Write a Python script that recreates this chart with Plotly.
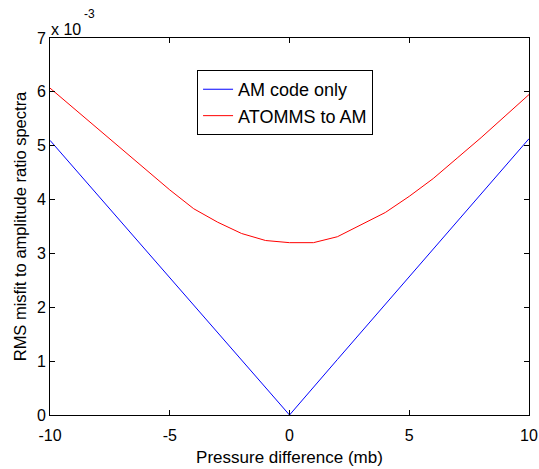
import plotly.graph_objects as go

# Pressure difference (mb)
x_blue = [-10, -8, -6, -4, -2, 0, 2, 4, 6, 8, 10]
y_blue = [5.10, 4.08, 3.06, 2.04, 1.02, 0.0, 1.03, 2.05, 3.08, 4.10, 5.13]  # x1e-3

x_red = [-10, -9, -8, -7, -6, -5, -4, -3, -2, -1, 0, 1, 2, 3, 4, 5, 6, 7, 8, 9, 10]
y_red = [6.07, 5.69, 5.31, 4.93, 4.56, 4.18, 3.83, 3.58, 3.37, 3.24, 3.20, 3.20, 3.31,
         3.54, 3.76, 4.06, 4.39, 4.77, 5.15, 5.55, 5.95]  # x1e-3

x_ticks = [-10, -5, 0, 5, 10]
y_ticks = [0, 1, 2, 3, 4, 5, 6, 7]

FONT = "Liberation Sans, Arial, sans-serif"

fig = go.Figure()
fig.add_trace(go.Scatter(x=x_blue, y=y_blue, mode="lines", name="AM code only",
                         line=dict(color="rgb(0,0,255)", width=1)))
fig.add_trace(go.Scatter(x=x_red, y=y_red, mode="lines", name="ATOMMS to AM",
                         line=dict(color="rgb(255,0,0)", width=1)))

axis_common = dict(showline=True, linecolor="black", linewidth=1, mirror="ticks",
                   ticks="inside", ticklen=5, tickcolor="black", showgrid=False,
                   zeroline=False, automargin=False,
                   tickfont=dict(family=FONT, size=16, color="black"))

fig.update_xaxes(range=[-10, 10], tickvals=x_ticks, ticktext=[str(v) for v in x_ticks],
                 ticklabelstandoff=6,
                 title=dict(text="Pressure difference (mb)",
                            font=dict(family=FONT, size=17, color="black"), standoff=7),
                 **axis_common)
fig.update_yaxes(range=[0, 7], tickvals=y_ticks, ticktext=[str(v) for v in y_ticks],
                 title=dict(text="RMS misfit to amplitude ratio spectra",
                            font=dict(family=FONT, size=16.5, color="black"), standoff=6),
                 **axis_common)

fig.add_annotation(x=0, y=1, xref="paper", yref="paper", xanchor="left", yanchor="middle",
                   text="x 10", showarrow=False, yshift=9, xshift=-1,
                   font=dict(family=FONT, size=16, color="black"))
fig.add_annotation(x=0, y=1, xref="paper", yref="paper", xanchor="left", yanchor="middle",
                   text="-3", showarrow=False, yshift=24, xshift=32,
                   font=dict(family=FONT, size=12, color="black"))

fig.update_layout(
    width=539, height=469,
    margin=dict(l=50, r=10, t=38, b=54),
    paper_bgcolor="white", plot_bgcolor="white",
    showlegend=True,
    legend=dict(x=0.307, y=0.915, xanchor="left", yanchor="top",
                bgcolor="white", bordercolor="black", borderwidth=1,
                font=dict(family=FONT, size=18, color="black"),
                tracegroupgap=0),
)

fig.write_html("out.html")
